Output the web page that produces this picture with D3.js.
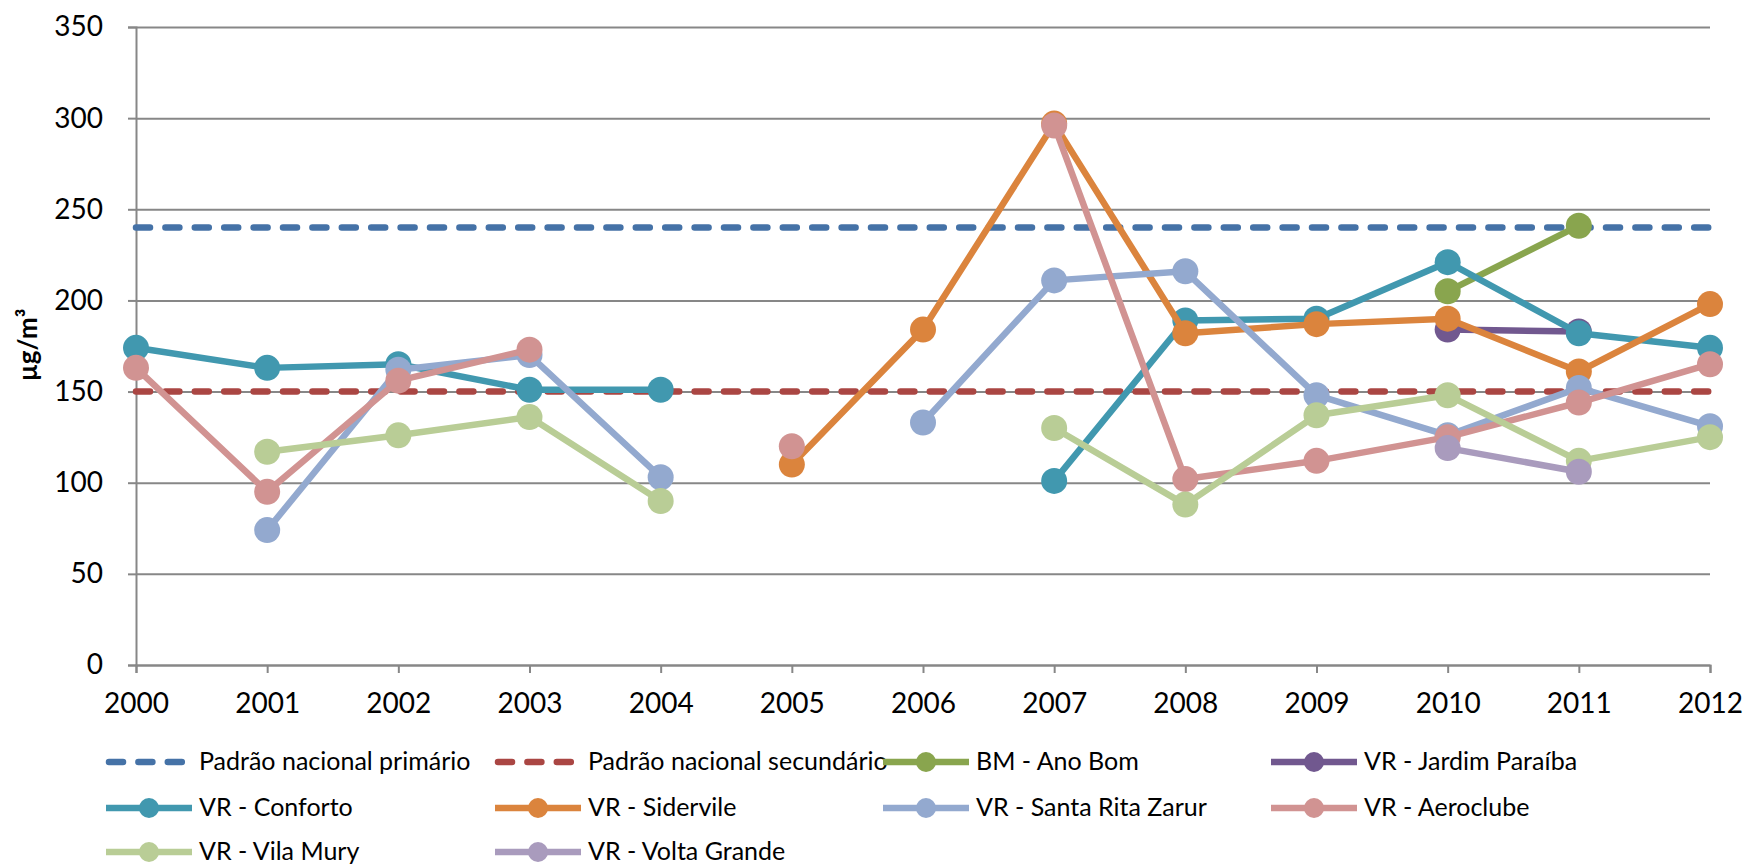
<!DOCTYPE html>
<html>
<head>
<meta charset="utf-8">
<script src="https://cdn.jsdelivr.net/npm/d3@7"></script>
<style>
  body { margin: 0; background: #fff; }
  text { font-family: Lato, 'Open Sans', sans-serif; }
</style>
</head>
<body>
<div id="chart"></div>
<script>
// data (µg/m³ per year)
let years = [2000, 2001, 2002, 2003, 2004, 2005, 2006, 2007, 2008, 2009, 2010, 2011, 2012]
let yTicks = [0, 50, 100, 150, 200, 250, 300, 350]

let padraoPrimario = [240, 240, 240, 240, 240, 240, 240, 240, 240, 240, 240, 240, 240]
let padraoSecundario = [150, 150, 150, 150, 150, 150, 150, 150, 150, 150, 150, 150, 150]
let anoBom = [null, null, null, null, null, null, null, null, null, null, 205, 241, null]
let jardimParaiba = [null, null, null, null, null, null, null, null, null, null, 184, 183, null]
let conforto = [174, 163, 165, 151, 151, null, null, 101, 189, 190, 221, 182, 174]
let sidervile = [null, null, null, null, null, 110, 184, 297, 182, 187, 190, 161, 198]
let santaRita = [null, 74, 162, 170, 103, null, 133, 211, 216, 148, 126, 152, 131]
let aeroclube = [163, 95, 156, 173, null, 120, null, 296, 102, 112, 125, 144, 165]
let vilaMury = [null, 117, 126, 136, 90, null, null, 130, 88, 137, 148, 112, 125]
let voltaGrande = [null, null, null, null, null, null, null, null, null, null, 119, 106, null]

let seriesNames = [
  'Padrão nacional primário',
  'Padrão nacional secundário',
  'BM - Ano Bom',
  'VR - Jardim Paraíba',
  'VR - Conforto',
  'VR - Sidervile',
  'VR - Santa Rita Zarur',
  'VR - Aeroclube',
  'VR - Vila Mury',
  'VR - Volta Grande'
]
let seriesValues = [padraoPrimario, padraoSecundario, anoBom, jardimParaiba, conforto,
  sidervile, santaRita, aeroclube, vilaMury, voltaGrande]
let seriesColors = ['#4572A7', '#AA4643', '#89A54E', '#71588F', '#4198AF',
  '#DB843D', '#93A9CF', '#D19392', '#B9CD96', '#A99BBD']
let dashed = [true, true, false, false, false, false, false, false, false, false]

let series = seriesNames.map((name, i) => ({
  name: name,
  color: seriesColors[i],
  dashed: dashed[i],
  values: years.map((yr, j) => ({ year: yr, value: seriesValues[i][j] }))
}))

let margin = { top: 27, left: 136, right: 34, bottom: 202 }
let width = 1744 - margin.left - margin.right
let height = 867 - margin.top - margin.bottom

let svg = d3
  .select('#chart')
  .append('svg')
  .attr('width', 1744)
  .attr('height', 867)

let g = svg.append('g')
  .attr('transform', 'translate(' + margin.left + ',' + margin.top + ')')

let xScale = d3.scaleLinear().domain([2000, 2012]).range([0, width])
let yScale = d3.scaleLinear().domain([0, 350]).range([height, 0])

// gridlines
g.append('g')
  .attr('class', 'grid')
  .call(d3.axisLeft(yScale).tickValues(yTicks).tickSize(-width).tickFormat(''))
  .call(s => s.select('.domain').remove())
  .selectAll('line')
  .attr('stroke', '#878787')
  .attr('stroke-width', 2)

// y axis
let yAxis = g.append('g')
  .call(d3.axisLeft(yScale).tickValues(yTicks).tickSize(8).tickPadding(25))
yAxis.select('.domain').attr('stroke', '#878787').attr('stroke-width', 2)
yAxis.selectAll('line').attr('stroke', '#878787').attr('stroke-width', 2)
yAxis.selectAll('text')
  .attr('font-size', 28)
  .attr('fill', '#000')
  .style('font-family', 'Lato, sans-serif')

// x axis
let xAxis = g.append('g')
  .attr('transform', 'translate(0,' + height + ')')
  .call(d3.axisBottom(xScale).tickValues(years).tickFormat(d3.format('d')).tickSize(8).tickPadding(20))
xAxis.select('.domain').attr('stroke', '#878787').attr('stroke-width', 2)
xAxis.selectAll('line').attr('stroke', '#878787').attr('stroke-width', 2)
xAxis.selectAll('text')
  .attr('font-size', 28)
  .attr('fill', '#000')
  .style('font-family', 'Lato, sans-serif')

// y axis title
svg.append('text')
  .attr('transform', 'translate(28,345) rotate(-90)')
  .attr('text-anchor', 'middle')
  .attr('dy', '0.35em')
  .attr('font-size', 26)
  .attr('font-weight', 'bold')
  .text('µg/m³')

let line = d3.line()
  .defined(d => d.value != null)
  .x(d => xScale(d.year))
  .y(d => yScale(d.value))

series.forEach(s => {
  let sg = g.append('g')
  sg.append('path')
    .datum(s.values)
    .attr('d', line)
    .attr('fill', 'none')
    .attr('stroke', s.color)
    .attr('stroke-width', 6.5)
    .attr('stroke-linecap', s.dashed ? 'round' : 'butt')
    .attr('stroke-linejoin', 'round')
    .attr('stroke-dasharray', s.dashed ? '14 15.4' : null)

  if (!s.dashed) {
    sg.selectAll('circle')
      .data(s.values.filter(d => d.value != null))
      .enter()
      .append('circle')
      .attr('cx', d => xScale(d.year))
      .attr('cy', d => yScale(d.value))
      .attr('r', 13)
      .attr('fill', s.color)
  }
})

// legend
let legendCols = [106, 495, 883, 1271]
let legendRows = [762, 808, 852]

svg.append('g')
  .selectAll('.legend')
  .data(series)
  .enter()
  .append('g')
  .attr('class', 'legend')
  .attr('transform', (d, i) => `translate(${legendCols[i % 4]}, ${legendRows[Math.floor(i / 4)]})`)
  .each(function(d) {
    let lg = d3.select(this)
    if (d.dashed) {
      lg.append('line')
        .attr('x1', 3).attr('x2', 86)
        .attr('stroke', d.color)
        .attr('stroke-width', 6.5)
        .attr('stroke-linecap', 'round')
        .attr('stroke-dasharray', '14 15.4')
    } else {
      lg.append('line')
        .attr('x1', 0).attr('x2', 86)
        .attr('stroke', d.color)
        .attr('stroke-width', 6.5)
      lg.append('circle')
        .attr('cx', 43)
        .attr('r', 10)
        .attr('fill', d.color)
    }
    lg.append('text')
      .attr('x', 93)
      .attr('dy', '0.32em')
      .attr('font-size', 25)
      .attr('fill', '#000')
      .text(d.name)
  })
</script>
</body>
</html>
